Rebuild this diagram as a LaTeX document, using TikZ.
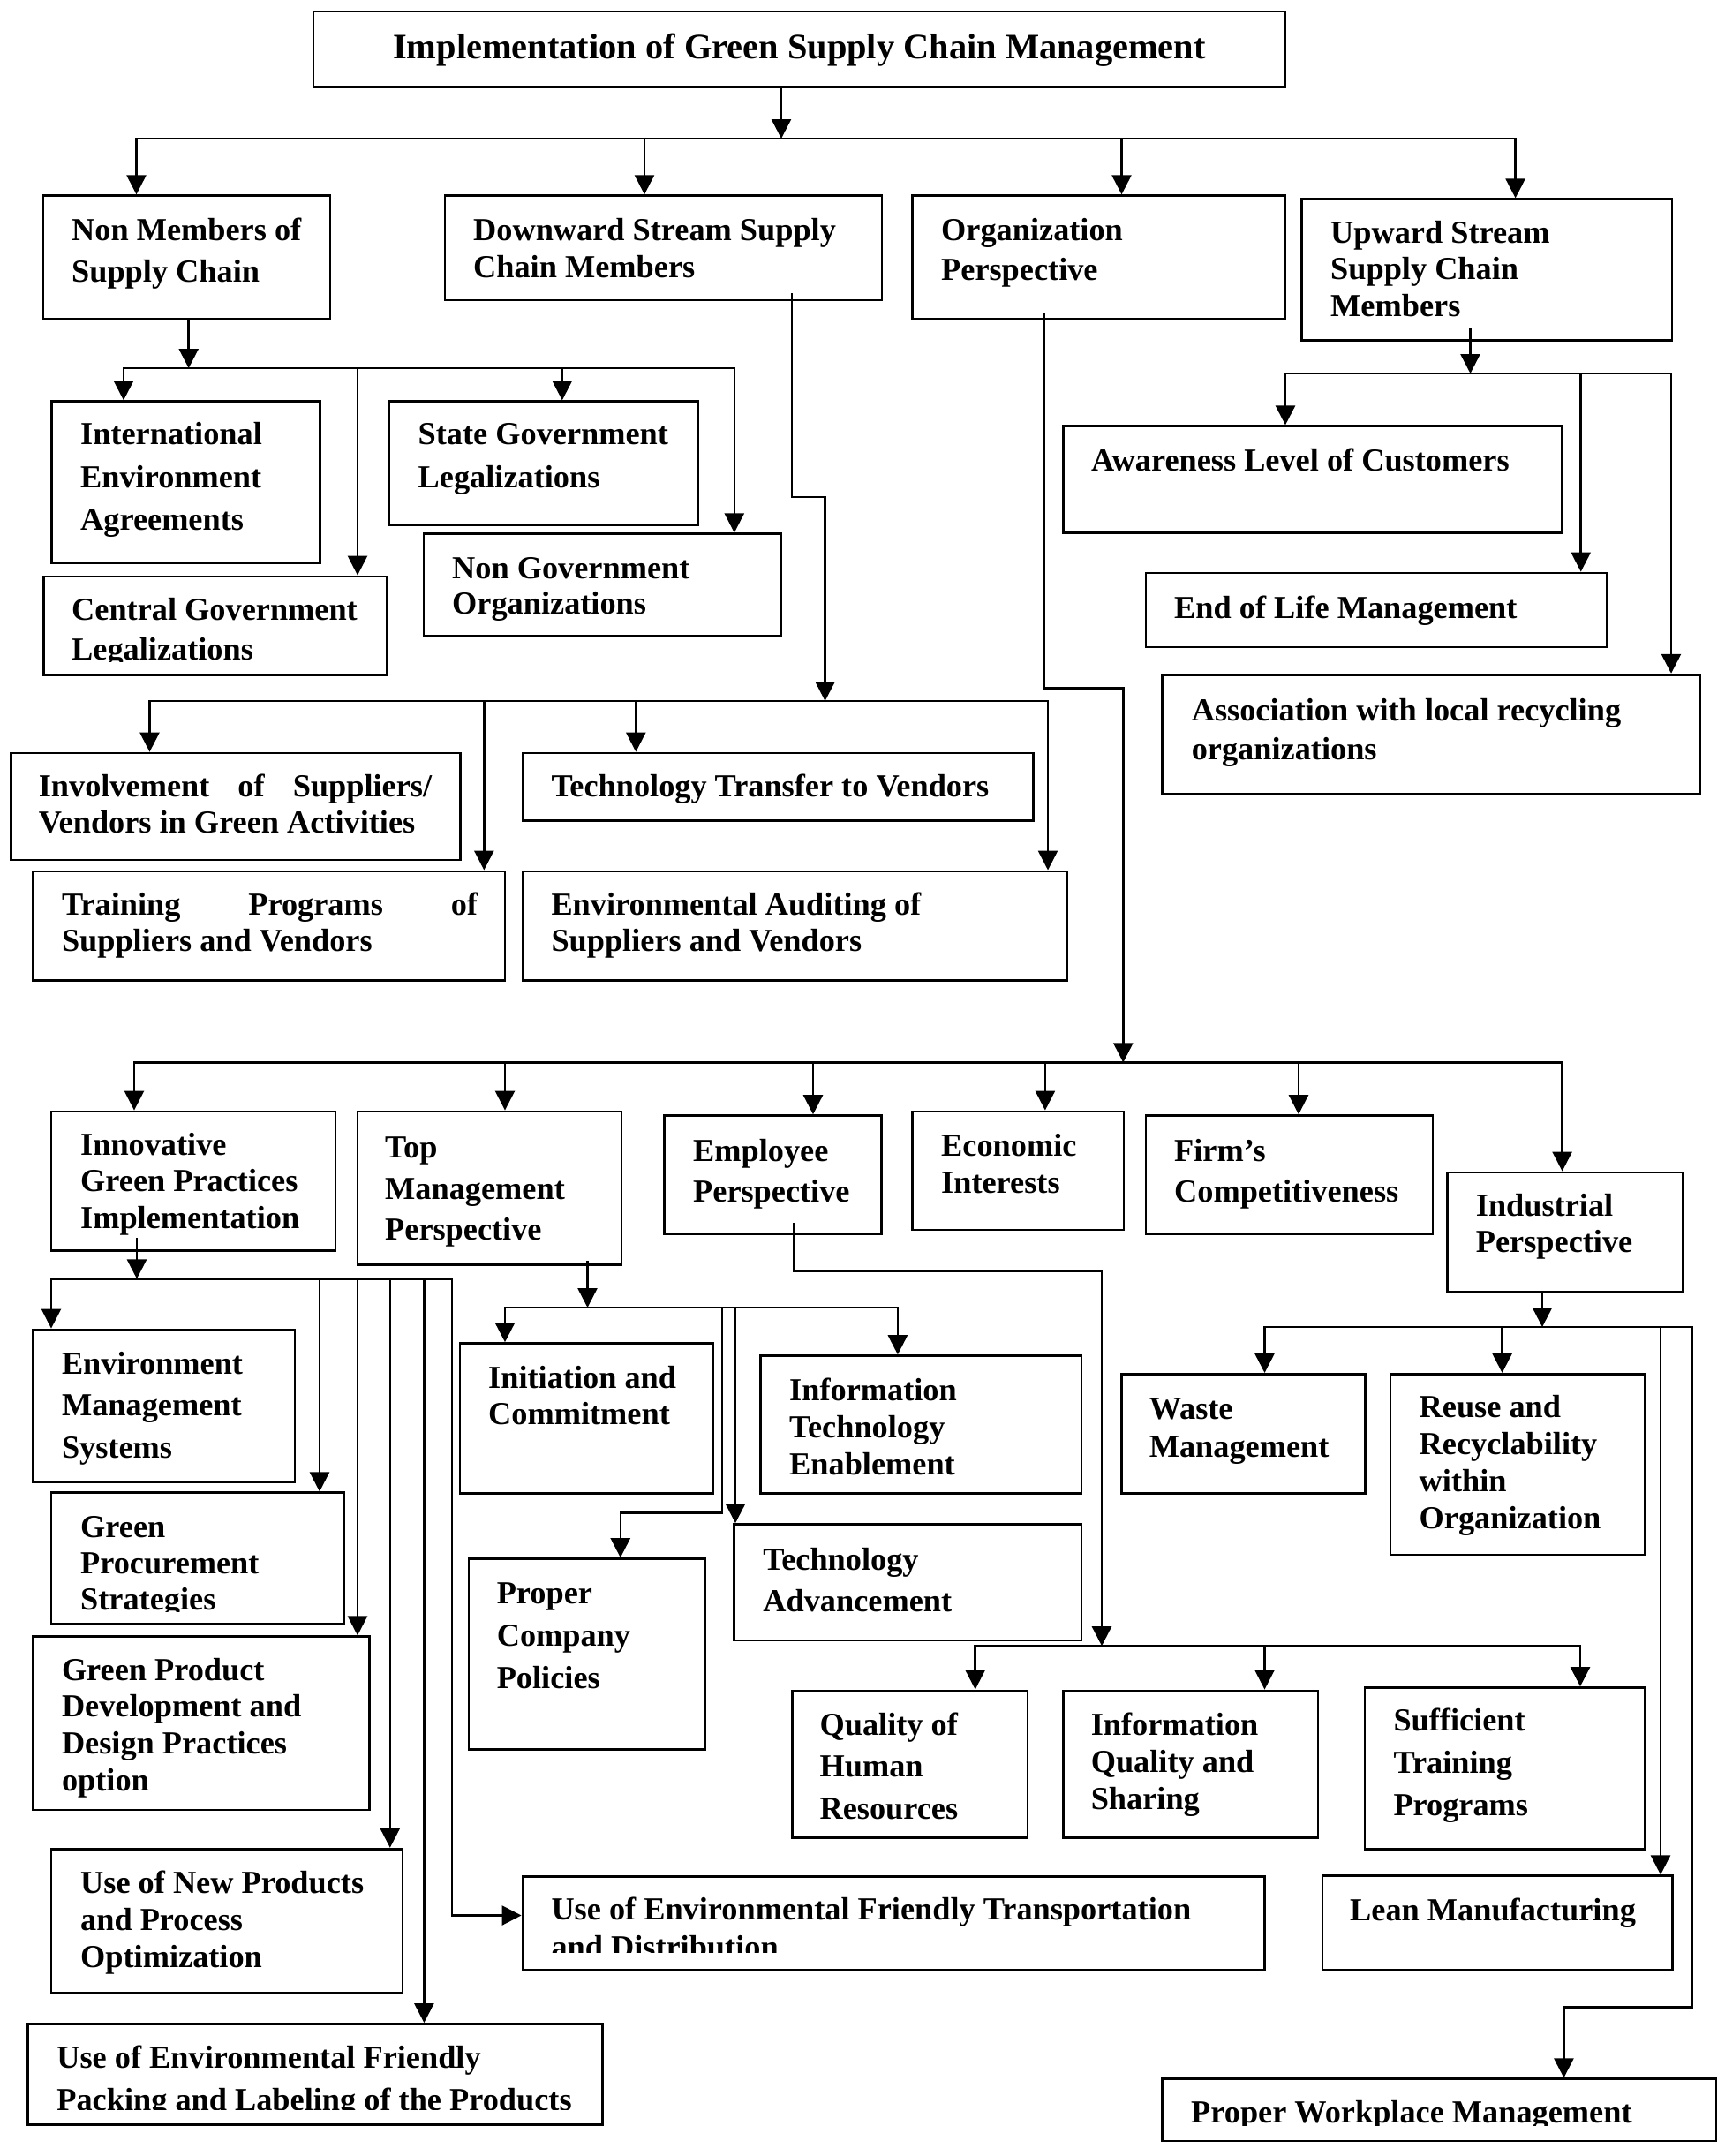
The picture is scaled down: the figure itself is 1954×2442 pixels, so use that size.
\documentclass[tikz,border=0pt]{standalone}
\usepackage{fontspec}
\setmainfont{Liberation Serif}
\usetikzlibrary{arrows.meta}
\tikzset{
  box/.style={draw, line width=2.8pt, inner sep=0pt},
  txt/.style={inner sep=0pt, anchor=base west, font=\fontsize{36.3pt}{42pt}\selectfont\bfseries},
  ttxt/.style={inner sep=0pt, anchor=base, font=\fontsize{40.4pt}{46pt}\selectfont\bfseries},
  conn/.style={line width=2.5pt, line cap=rect},
  arr/.style={conn, -{Triangle[width=22pt,length=22pt]}}
}
\newcommand\mkbox[5]{\node[box, minimum width={#4pt-#2pt}, minimum height={#5pt-#3pt}] (#1) at ({(#2+#4)/2},{(#3+#5)/2}) {};}
\newcommand\boxtext[5]{\node[txt] (#1) at (#2,#3) {\vtop{\baselineskip=#4pt\lineskiplimit=-200pt\lineskip=0pt\relax#5}};}
\newcommand\textline[1]{\hbox{#1}}
\begin{document}
\begin{tikzpicture}[x=1pt,y=-1pt]
\fill[white] (0,0) rectangle (1954,2442);
\useasboundingbox (0,0) rectangle (1954,2442);
% ---------- boxes ----------
\mkbox{title}{355}{13}{1456}{98.6}
\mkbox{nonmem}{49}{221.7}{374}{361.8}
\mkbox{down}{504}{221.7}{999}{340}
\mkbox{org}{1033.7}{221.7}{1455.5}{361.8}
\mkbox{up}{1474.8}{225.8}{1894}{385.2}
\mkbox{intl}{58.6}{454.8}{362.6}{637.5}
\mkbox{central}{49.2}{653}{438.6}{764.7}
\mkbox{state}{441}{454.8}{791}{594.4}
\mkbox{ngo}{480}{604.8}{884.8}{720.6}
\mkbox{aware}{1204.4}{482.8}{1769.6}{603.8}
\mkbox{eol}{1297.9}{649}{1820}{733}
\mkbox{assoc}{1316.6}{764.2}{1926}{899.7}
\mkbox{inv}{12.5}{853}{521.5}{974}
\mkbox{train}{37.4}{986.9}{572}{1110.4}
\mkbox{tech}{592.5}{853}{1170.8}{929.2}
\mkbox{audit}{592.5}{986.9}{1208.2}{1110.4}
\mkbox{innov}{58}{1259}{380}{1416.2}
\mkbox{topm}{405}{1259}{704}{1432.8}
\mkbox{emp}{752.7}{1263.6}{998.8}{1398}
\mkbox{econ}{1033.7}{1259}{1273}{1392.9}
\mkbox{firm}{1297.9}{1263.6}{1623}{1398}
\mkbox{ind}{1639.3}{1328}{1906.6}{1463}
\mkbox{ems}{37.4}{1506}{334}{1678.9}
\mkbox{gproc}{58}{1690.8}{389.4}{1839.8}
\mkbox{gprod}{37.4}{1853.8}{418.7}{2050}
\mkbox{newp}{58}{2094.2}{456}{2257.2}
\mkbox{pack}{31.2}{2292.5}{682.3}{2406.7}
\mkbox{trans}{592}{2125.3}{1432.5}{2231.2}
\mkbox{init}{521}{1521.6}{808}{1691.3}
\mkbox{itech}{861.7}{1535.6}{1225}{1691.3}
\mkbox{prop}{530.9}{1765.6}{798.2}{1981.5}
\mkbox{tadv}{831.8}{1726.6}{1225}{1858}
\mkbox{qhr}{897.2}{1915}{1164}{2081.2}
\mkbox{iqs}{1204.4}{1915}{1493}{2081.2}
\mkbox{stp}{1545.9}{1911.5}{1863.6}{2094.2}
\mkbox{waste}{1270.5}{1556.4}{1546.5}{1691.3}
\mkbox{reuse}{1575}{1556.4}{1863.6}{1761}
\mkbox{lean}{1497.9}{2124.8}{1894.2}{2231.2}
\mkbox{pwm}{1316.6}{2354.8}{1944}{2424.9}
% ---------- texts ----------
\node[ttxt] (titletext) at (905.5,66.5) {Implementation of Green Supply Chain Management};
\boxtext{tnonmem}{81}{272.5}{46.8}{\textline{Non Members of}\textline{Supply Chain}}
\boxtext{tdown}{536}{272.5}{41.5}{\textline{Downward Stream Supply}\textline{Chain Members}}
\boxtext{torg}{1066}{272.5}{45.2}{\textline{Organization}\textline{Perspective}}
\boxtext{tup}{1507}{275}{41.6}{\textline{Upward Stream}\textline{Supply Chain}\textline{Members}}
\boxtext{tintl}{91}{503.6}{48.5}{\textline{International}\textline{Environment}\textline{Agreements}}
\begin{scope}
\clip (49.2,653) rectangle (438.6,749);
\boxtext{tcentral}{81}{702}{45.5}{\textline{Central Government}\textline{Legalizations}}
\end{scope}
\boxtext{tstate}{473.5}{503.6}{48.4}{\textline{State Government}\textline{Legalizations}}
\boxtext{tngo}{512}{655}{40.6}{\textline{Non Government}\textline{Organizations}}
\boxtext{taware}{1236}{533}{42}{\textline{Awareness Level of Customers}}
\boxtext{teol}{1330}{700.8}{42}{\textline{End of Life Management}}
\boxtext{tassoc}{1349.6}{816.5}{44}{\textline{Association with local recycling}\textline{organizations}}
\boxtext{tinv}{43.6}{902.3}{41.5}{\hbox to 445.4pt{Involvement\hfil of\hfil Suppliers/}\textline{Vendors in Green Activities}}
\boxtext{ttrain}{69.8}{1036.2}{41.5}{\hbox to 471pt{Training\hfil Programs\hfil of}\textline{Suppliers and Vendors}}
\boxtext{ttech}{624.3}{902.3}{42}{\textline{Technology Transfer to Vendors}}
\boxtext{taudit}{624.3}{1036.2}{41.5}{\textline{Environmental Auditing of}\textline{Suppliers and Vendors}}
\boxtext{tinnov}{91}{1308.2}{41.5}{\textline{Innovative}\textline{Green Practices}\textline{Implementation}}
\boxtext{ttopm}{436}{1311.3}{46.7}{\textline{Top}\textline{Management}\textline{Perspective}}
\boxtext{temp}{785}{1315}{46.7}{\textline{Employee}\textline{Perspective}}
\boxtext{tecon}{1066}{1309.8}{41.5}{\textline{Economic}\textline{Interests}}
\boxtext{tfirm}{1330}{1315}{46.7}{\textline{Firm’s}\textline{Competitiveness}}
\boxtext{tind}{1671.7}{1377.3}{41.5}{\textline{Industrial}\textline{Perspective}}
\boxtext{tems}{69.8}{1556}{47.5}{\textline{Environment}\textline{Management}\textline{Systems}}
\begin{scope}
\clip (58,1690.8) rectangle (389.4,1825);
\boxtext{tgproc}{91}{1741.2}{41}{\textline{Green}\textline{Procurement}\textline{Strategies}}
\end{scope}
\boxtext{tgprod}{69.8}{1903}{41.9}{\textline{Green Product}\textline{Development and}\textline{Design Practices}\textline{option}}
\boxtext{tnewp}{91}{2144.5}{42}{\textline{Use of New Products}\textline{and Process}\textline{Optimization}}
\begin{scope}
\clip (31.2,2292.5) rectangle (682.3,2389.5);
\boxtext{tpack}{64.2}{2342.8}{47.5}{\textline{Use of Environmental Friendly}\textline{Packing and Labeling of the Products}}
\end{scope}
\begin{scope}
\clip (592,2125.3) rectangle (1432.5,2211);
\boxtext{ttrans}{624.3}{2174}{43}{\textline{Use of Environmental Friendly Transportation}\textline{and Distribution}}
\end{scope}
\boxtext{tinit}{553}{1572}{41.5}{\textline{Initiation and}\textline{Commitment}}
\boxtext{titech}{894}{1586}{42}{\textline{Information}\textline{Technology}\textline{Enablement}}
\boxtext{tprop}{562.6}{1816}{48.2}{\textline{Proper}\textline{Company}\textline{Policies}}
\boxtext{ttadv}{864.2}{1778.5}{46.8}{\textline{Technology}\textline{Advancement}}
\boxtext{tqhr}{928.4}{1965.4}{47.5}{\textline{Quality of}\textline{Human}\textline{Resources}}
\boxtext{tiqs}{1235.6}{1965.4}{42}{\textline{Information}\textline{Quality and}\textline{Sharing}}
\boxtext{tstp}{1578.3}{1960.2}{48}{\textline{Sufficient}\textline{Training}\textline{Programs}}
\boxtext{twaste}{1301.6}{1607}{43}{\textline{Waste}\textline{Management}}
\boxtext{treuse}{1607.5}{1605.7}{42}{\textline{Reuse and}\textline{Recyclability}\textline{within}\textline{Organization}}
\boxtext{tlean}{1529}{2175.7}{42}{\textline{Lean Manufacturing}}
\begin{scope}
\clip (1316.6,2354.8) rectangle (1944,2407);
\boxtext{tpwm}{1349}{2404}{42}{\textline{Proper Workplace Management}}
\end{scope}
% ---------- connectors ----------
% main
\coordinate (mt) at (885,157);
\coordinate (m0) at (154.5,157);
\coordinate (m1) at (730,157);
\coordinate (m2) at (1270.5,157);
\coordinate (m3) at (1716.6,157);
\draw[arr] (title.south -| mt) -- (mt);
\draw[conn] (m0) -- (m3);
\foreach \c/\n in {m0/nonmem, m1/down, m2/org, m3/up} \draw[arr] (\c) -- (\c |- \n.north);
% non members
\coordinate (nt) at (213.7,417);
\coordinate (n0) at (140,417);
\coordinate (n1) at (405,417);
\coordinate (n2) at (636.8,417);
\coordinate (n3) at (831.8,417);
\draw[arr] (nonmem.south -| nt) -- (nt);
\draw[conn] (n0) -- (n3);
\foreach \c/\n in {n0/intl, n1/central, n2/state, n3/ngo} \draw[arr] (\c) -- (\c |- \n.north);
% downward
\coordinate (dA) at (897,563);
\coordinate (dB) at (934.6,563);
\coordinate (st) at (934.6,794);
\draw[arr] ([yshift=8pt]down.south -| dA) -- (dA) -- (dB) -- (st);
\coordinate (s0) at (169.5,794);
\coordinate (s1) at (548.3,794);
\coordinate (s2) at (720.3,794);
\coordinate (s3) at (1187,794);
\draw[conn] (s0) -- (s3);
\foreach \c/\n in {s0/inv, s1/train, s2/tech, s3/audit} \draw[arr] (\c) -- (\c |- \n.north);
% upward
\coordinate (ut) at (1665.5,423);
\coordinate (u0) at (1456,423);
\coordinate (u1) at (1790.7,423);
\coordinate (u2) at (1893,423);
\draw[arr] ([yshift=14pt]up.south -| ut) -- (ut);
\draw[conn] (u0) -- (u2);
\foreach \c/\n in {u0/aware, u1/eol, u2/assoc} \draw[arr] (\c) -- (\c |- \n.north);
% organization
\coordinate (oA) at (1182.6,779.7);
\coordinate (oB) at (1272.3,779.7);
\coordinate (ot) at (1272.3,1203.4);
\draw[arr] ([yshift=7pt]org.south -| oA) -- (oA) -- (oB) -- (ot);
\coordinate (g0) at (152,1203.4);
\coordinate (g1) at (572,1203.4);
\coordinate (g2) at (921,1203.4);
\coordinate (g3) at (1183.9,1203.4);
\coordinate (g4) at (1471,1203.4);
\coordinate (g5) at (1769.6,1203.4);
\draw[conn] (g0) -- (g5);
\foreach \c/\n in {g0/innov, g1/topm, g2/emp, g3/econ, g4/firm, g5/ind} \draw[arr] (\c) -- (\c |- \n.north);
% innovative
\coordinate (it) at (155,1448.4);
\coordinate (i0) at (58,1448.4);
\coordinate (i1) at (362,1448.4);
\coordinate (i2) at (405,1448.4);
\coordinate (i3) at (441.8,1448.4);
\coordinate (i4) at (480.4,1448.4);
\coordinate (i5) at (512.2,1448.4);
\coordinate (iB) at (512.2,2169.5);
\draw[arr] ([yshift=14pt]innov.south -| it) -- (it);
\draw[conn] (i0) -- (i5);
\foreach \c/\n in {i0/ems, i1/gproc, i2/gprod, i3/newp, i4/pack} \draw[arr] (\c) -- (\c |- \n.north);
\draw[arr] (i5) -- (iB) -- (iB -| trans.west);
% top management
\coordinate (tt) at (665.5,1481);
\coordinate (t0) at (572,1481);
\coordinate (t1) at (818,1481);
\coordinate (t2) at (833,1481);
\coordinate (t3) at (1016.9,1481);
\coordinate (tA) at (818,1713.7);
\coordinate (tB) at (702.8,1713.7);
\draw[arr] ([yshift=5pt]topm.south -| tt) -- (tt);
\draw[conn] (t0) -- (t3);
\foreach \c/\n in {t0/init, t2/tadv, t3/itech} \draw[arr] (\c) -- (\c |- \n.north);
\draw[arr] (t1) -- (tA) -- (tB) -- (tB |- prop.north);
% employee
\coordinate (eA) at (899,1439.6);
\coordinate (eB) at (1248,1439.6);
\coordinate (et) at (1248,1864.2);
\draw[arr] ([yshift=13pt]emp.south -| eA) -- (eA) -- (eB) -- (et);
\coordinate (e0) at (1104.7,1864.2);
\coordinate (e1) at (1432.5,1864.2);
\coordinate (e2) at (1790,1864.2);
\draw[conn] (e0) -- (e2);
\foreach \c/\n in {e0/qhr, e1/iqs, e2/stp} \draw[arr] (\c) -- (\c |- \n.north);
% industrial
\coordinate (rt) at (1747,1503);
\coordinate (r0) at (1432.5,1503);
\coordinate (r1) at (1701.6,1503);
\coordinate (r2) at (1881,1503);
\coordinate (r3) at (1916.6,1503);
\coordinate (rA) at (1916.6,2273.3);
\coordinate (rB) at (1771.4,2273.3);
\draw[arr] (ind.south -| rt) -- (rt);
\draw[conn] (r0) -- (r3);
\foreach \c/\n in {r0/waste, r1/reuse, r2/lean} \draw[arr] (\c) -- (\c |- \n.north);
\draw[arr] (r3) -- (rA) -- (rB) -- (rB |- pwm.north);
\end{tikzpicture}
\end{document}
